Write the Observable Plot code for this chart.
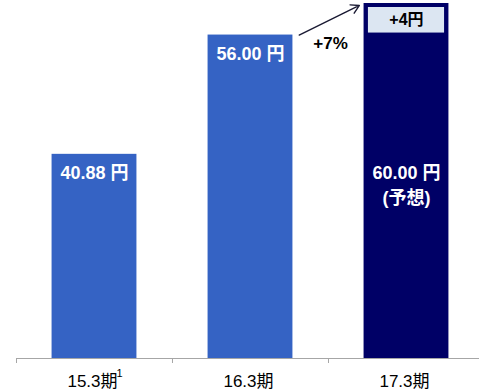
<!DOCTYPE html>
<html>
<head>
<meta charset="utf-8">
<script src="https://cdn.jsdelivr.net/npm/d3@7"></script>
<script src="https://cdn.jsdelivr.net/npm/@observablehq/plot@0.6"></script>
<style>
  html, body { margin: 0; padding: 0; background: #fff; }
  #chart svg { display: block; }
</style>
</head>
<body>
<div id="chart"></div>
<script>
// Dividend per share by fiscal year
const periods = ["15.3期", "16.3期", "17.3期"];
const footnotes = ["1", "", ""];
const dividends = [40.88, 56.00, 60.00];
const valueLabels = ["40.88 円", "56.00 円", "60.00 円\n(予想)"];
const barColors = ["#3563c4", "#3563c4", "#000066"];
const growthLabel = "+7%";
const stepLabel = "+4円";

const font = "Arial, 'Liberation Sans', 'Noto Sans CJK JP', sans-serif";
const yMin = 15;
const half = 0.272; // half of a bar's width, in category units

const rows = periods.map((p, i) => ({
  i, period: p, note: footnotes[i], value: dividends[i], label: valueLabels[i], color: barColors[i]
}));

const chart = Plot.plot({
  width: 479,
  height: 390,
  marginTop: 3,
  marginBottom: 32,
  marginLeft: 16,
  marginRight: 0,
  style: {fontFamily: font, background: "#fff"},
  x: {domain: [-0.5, 2.468], axis: null},
  y: {domain: [yMin, dividends[2]], axis: null},
  marks: [
    Plot.rectY(rows, {
      x1: d => d.i - half,
      x2: d => d.i + half,
      y1: yMin,
      y2: "value",
      fill: "color"
    }),
    // increase from the previous year, drawn inside the forecast bar
    Plot.rectY([0], {
      x1: 2 - 0.244,
      x2: 2 + 0.244,
      y1: dividends[1],
      y2: dividends[2],
      insetTop: 4,
      insetBottom: 2,
      fill: "#dce6f2"
    }),
    Plot.text([stepLabel], {
      x: 2,
      y: (dividends[1] + dividends[2]) / 2,
      text: d => d,
      dy: 1,
      fontSize: 16,
      fontWeight: "bold",
      fill: "#000"
    }),
    // value labels
    Plot.text(rows, {
      x: "i",
      y: d => d.i === 2 ? dividends[0] : d.value,
      text: "label",
      lineAnchor: "top",
      lineHeight: 1.4,
      dy: 7,
      fontSize: 18,
      fontWeight: "bold",
      fill: "#fff"
    }),
    // growth arrow
    Plot.arrow([0], {
      x1: 1 + half + 0.04,
      y1: dividends[1],
      x2: 2 - half - 0.03,
      y2: dividends[2] - 0.25,
      stroke: "#1a1a33",
      strokeWidth: 1.4,
      headLength: 10
    }),
    Plot.text([growthLabel], {
      x: 1.5,
      y: dividends[1],
      text: d => d,
      dx: 2,
      dy: 8,
      fontSize: 17,
      fontWeight: "bold",
      fill: "#000"
    }),
    // baseline and category separators
    Plot.ruleY([yMin], {stroke: "#a6a6a6", strokeWidth: 1}),
    Plot.axisX({
      ticks: [-0.5, 0.5, 1.5],
      tickSize: 5,
      tickFormat: () => "",
      label: null,
      stroke: "#a6a6a6"
    }),
    // category labels with footnote markers
    Plot.text(rows, {
      x: "i",
      y: yMin,
      text: "period",
      dx: -2,
      dy: 23,
      fontSize: 17,
      fill: "#000"
    }),
    Plot.text(rows.filter(d => d.note), {
      x: "i",
      y: yMin,
      text: "note",
      dx: 25,
      dy: 15,
      fontSize: 11,
      fill: "#000"
    })
  ]
});

document.getElementById("chart").append(chart);
</script>
</body>
</html>
